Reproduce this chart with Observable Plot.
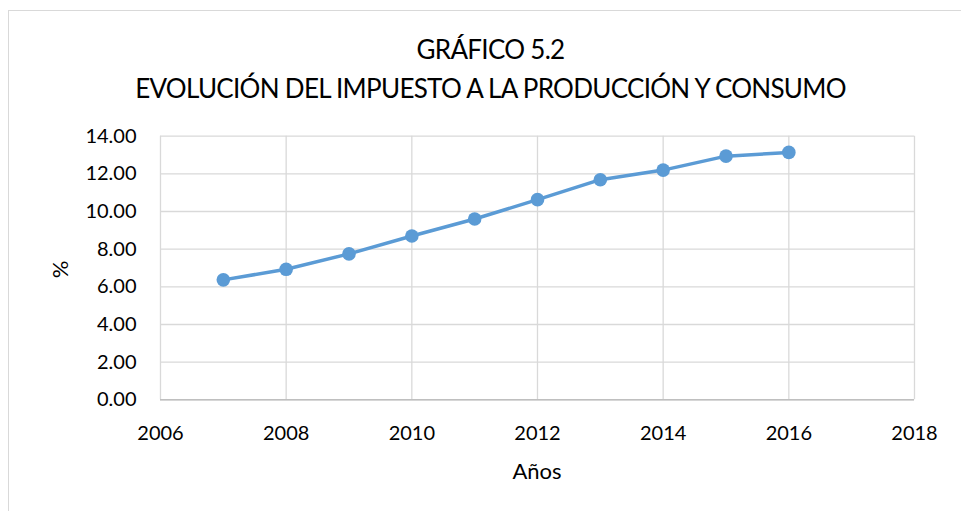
<!DOCTYPE html>
<html>
<head>
<meta charset="utf-8">
<script src="https://cdn.jsdelivr.net/npm/d3@7"></script>
<script src="https://cdn.jsdelivr.net/npm/@observablehq/plot@0.6"></script>
<style>
  body { margin: 0; background: #fff; }
  #wrap { position: relative; width: 961px; height: 511px; overflow: hidden; font-family: Lato, sans-serif; color: #000; }
  #frame { position: absolute; left: 8px; top: 10px; width: 960px; height: 520px; border-left: 1.5px solid #d9d9d9; border-top: 1.5px solid #d9d9d9; }
  .t { position: absolute; left: 10px; width: 961px; text-align: center; font-size: 26px; line-height: 1; white-space: nowrap; letter-spacing: -0.7px; }
  #xlabel { position: absolute; left: 487px; width: 100px; text-align: center; top: 457px; font-size: 22px; }
  #ylabel { position: absolute; left: 49px; top: 256px; width: 20px; text-align: center; font-size: 22px; transform: rotate(-90deg); }
  #chart { position: absolute; left: 0; top: 0; }
</style>
</head>
<body>
<div id="wrap">
  <div id="frame"></div>
  <div id="chart"></div>
  <div class="t" style="top:36px">GRÁFICO 5.2</div>
  <div class="t" style="top:75px">EVOLUCIÓN DEL IMPUESTO A LA PRODUCCIÓN Y CONSUMO</div>
  <div id="xlabel">Años</div>
  <div id="ylabel">%</div>
</div>
<script>
const years = [2007, 2008, 2009, 2010, 2011, 2012, 2013, 2014, 2015, 2016];
const values = [6.37, 6.93, 7.75, 8.70, 9.60, 10.63, 11.69, 12.20, 12.94, 13.14];
const xTicks = [2006, 2008, 2010, 2012, 2014, 2016, 2018];
const yTicks = [0, 2, 4, 6, 8, 10, 12, 14];

const data = years.map((y, i) => ({year: y, value: values[i]}));

const chart = Plot.plot({
  width: 961,
  height: 511,
  marginLeft: 160,
  marginRight: 47,
  marginTop: 135.7,
  marginBottom: 111.7,
  style: {fontFamily: "Lato, sans-serif", fontSize: "20px", color: "#000", background: "transparent", overflow: "visible"},
  x: {domain: [2006, 2018], ticks: xTicks, tickFormat: d => String(d), label: null, tickSize: 0, tickPadding: 25.5},
  y: {domain: [0, 14], ticks: yTicks, tickFormat: d => d.toFixed(2), label: null, tickSize: 0, tickPadding: 24},
  marks: [
    Plot.gridX(xTicks, {stroke: "#d9d9d9", strokeOpacity: 1, strokeWidth: 1.3}),
    Plot.gridY(yTicks, {stroke: "#d9d9d9", strokeOpacity: 1, strokeWidth: 1.3}),
    Plot.ruleY([0], {stroke: "#bfbfbf", strokeWidth: 1.5}),
    Plot.line(data, {x: "year", y: "value", stroke: "#5b9bd5", strokeWidth: 3.5}),
    Plot.dot(data, {x: "year", y: "value", fill: "#5b9bd5", r: 6.8})
  ]
});
document.getElementById("chart").appendChild(chart);
</script>
</body>
</html>
